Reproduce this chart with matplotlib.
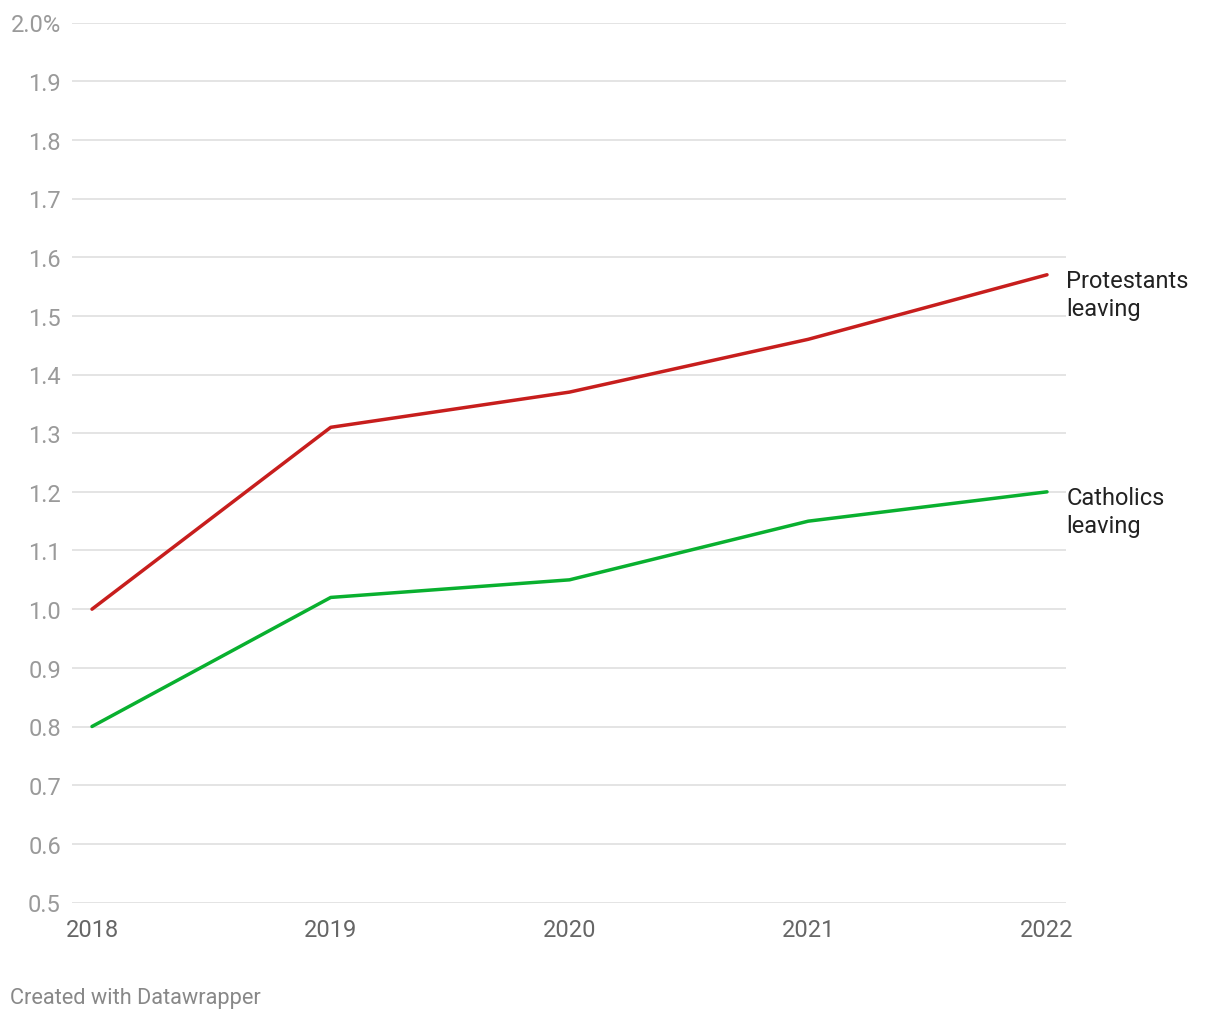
import matplotlib
matplotlib.use("Agg")
import matplotlib.pyplot as plt

plt.rcParams['font.family'] = ['Roboto', 'DejaVu Sans']

years = [2018, 2019, 2020, 2021, 2022]
protestants = [1.00, 1.31, 1.37, 1.46, 1.57]
catholics = [0.80, 1.02, 1.05, 1.15, 1.20]
yticks = [0.5, 0.6, 0.7, 0.8, 0.9, 1.0, 1.1, 1.2, 1.3, 1.4, 1.5, 1.6, 1.7, 1.8, 1.9, 2.0]
ytick_labels = ["0.5", "0.6", "0.7", "0.8", "0.9", "1.0", "1.1", "1.2", "1.3", "1.4",
                "1.5", "1.6", "1.7", "1.8", "1.9", "2.0%"]
series_labels = ["Protestants\nleaving", "Catholics\nleaving"]

W, H = 1220, 1020
fig = plt.figure(figsize=(W / 100, H / 100), dpi=100)
ax = fig.add_axes([72 / W, (H - 903.5) / H, (1066 - 72) / W, (903.5 - 23.5) / H])

span = (1047 - 92) / 4.0
ax.set_xlim(2018 - 20 / span, 2022 + 19 / span)
ax.set_ylim(0.5, 2.0)

for y in yticks:
    ax.axhline(y, color='#e2e2e2', lw=1.3, zorder=1)

red = '#c71e1d'
green = '#09b02f'
ax.plot(years, protestants, color=red, lw=2.5, solid_capstyle='round', zorder=3)
ax.plot(years, catholics, color=green, lw=2.5, solid_capstyle='round', zorder=3)

for vals, lab in zip([protestants, catholics], series_labels):
    ax.annotate(lab, xy=(years[-1], vals[-1]), xytext=(14.0, -14), textcoords='offset points',
                ha='left', va='center', fontsize=17, color='#222222', linespacing=1.27,
                annotation_clip=False)

ax.set_yticks(yticks)
ax.set_yticklabels(ytick_labels)
ax.set_xticks(years)
ax.set_xticklabels([str(y) for y in years])
ax.tick_params(axis='y', length=0, pad=8, labelsize=17, labelcolor='#9a9a9a')
ax.tick_params(axis='x', length=0, pad=11, labelsize=17, labelcolor='#666666')
for s in ax.spines.values():
    s.set_visible(False)

fig.text(10 / W, 1 - 999 / H, "Created with Datawrapper", fontsize=15.7, color='#888888',
         ha='left', va='center')

fig.savefig('out.png', dpi=100, facecolor='white')
